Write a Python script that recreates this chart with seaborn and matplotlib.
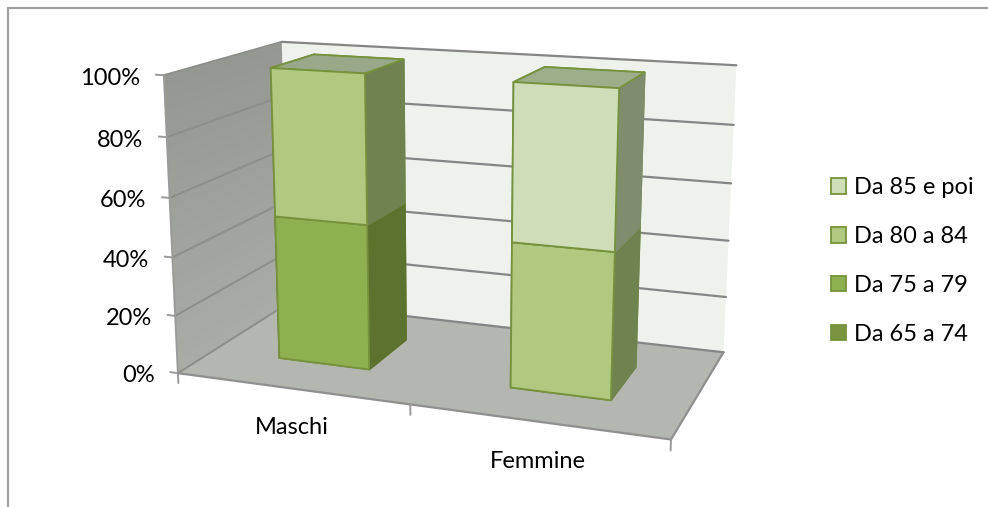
import numpy as np
import matplotlib
matplotlib.use('Agg')
import matplotlib.pyplot as plt
from matplotlib.lines import Line2D
from matplotlib.patches import Patch
from mpl_toolkits.mplot3d import proj3d
from mpl_toolkits.mplot3d.art3d import Poly3DCollection
import seaborn as sns

categories = ['Maschi', 'Femmine']
series_names = ['Da 65 a 74', 'Da 75 a 79', 'Da 80 a 84', 'Da 85 e poi']
da_65_74 = [0, 0]
da_75_79 = [50, 0]
da_80_84 = [50, 48.8]
da_85_poi = [0, 51.2]
pct_ticks = [0, 20, 40, 60, 80, 100]

# front, side, top colour of each series
front_colors = ['#7A9440', '#8FB050', '#B0C880', '#CFDDB8']
side_colors = ['#566828', '#5E7230', '#6F8250', '#7F8C6D']
top_colors = ['#78885A', '#84966A', '#98A888', '#9DAE8A']
edge_color = '#76923C'
grid_color = '#858585'

sns.set_theme(style='white')
plt.rcParams['font.family'] = ['Lato', 'DejaVu Sans']
plt.rcParams['text.color'] = 'black'

W, H = 988, 507
fig = plt.figure(figsize=(W / 100, H / 100), dpi=100)

# camera fitted against the corners of the walls and bars
side_px = 619.27
ax = fig.add_axes([138.01 / W, -30.86 / H, side_px / W, side_px / H], projection='3d', computed_zorder=False)
ax.set_axis_off()
ax.patch.set_alpha(0)
ax.view_init(elev=14.2876, azim=-69.8551)
ax.set_proj_type('persp', focal_length=0.4606)
ax.set_box_aspect((1.6665, 0.8357, 1.0))

x_max = len(categories)
z_max = pct_ticks[-1]

# walls and floor
wall_shades = sns.blend_palette(['#959791', '#A9ABA5'], 25)
z_edges = np.linspace(z_max, 0, 26)
for i, shade in enumerate(wall_shades):
    strip = [(0, 0, z_edges[i]), (0, 1, z_edges[i]), (0, 1, z_edges[i + 1]), (0, 0, z_edges[i + 1])]
    ax.add_collection3d(Poly3DCollection([strip], facecolors=shade, edgecolors=shade, linewidths=0.5, zorder=1))
back = [(0, 1, 0), (x_max, 1, 0), (x_max, 1, z_max), (0, 1, z_max)]
ax.add_collection3d(Poly3DCollection([back], facecolors='#EFF2EC', edgecolors='none', zorder=1))
floor = [(0, 0, 0), (x_max, 0, 0), (x_max, 1, 0), (0, 1, 0)]
ax.add_collection3d(Poly3DCollection([floor], facecolors='#B4B6B0', edgecolors='none', zorder=1))

# gridlines run along the left wall and then the back wall
for z in pct_ticks:
    ax.plot([0, 0], [0, 1], [z, z], color='#8C8E8A', lw=1.4, zorder=2)
    ax.plot([0, x_max], [1, 1], [z, z], color=grid_color, lw=1.6, zorder=2)
    ax.plot([-0.035, 0], [0, 0], [z, z], color='#9A9A9A', lw=1.4, zorder=2)
ax.plot([0, 0], [0, 0], [0, z_max], color='#9A9A9A', lw=1.4, zorder=2)
ax.plot([0, x_max], [0, 0], [0, 0], color='#8F8F8F', lw=1.6, zorder=2)
ax.plot([x_max, x_max], [0, 1], [0, 0], color='#8F8F8F', lw=1.6, zorder=2)
for x in range(x_max + 1):
    ax.plot([x, x], [0, 0], [-3.5, 0], color='#9A9A9A', lw=1.4, zorder=2)

# stacked bars
bar_w, bar_y, bar_d = 0.4015, 0.3025, 0.3942
positions = np.arange(x_max) + 0.5 - bar_w / 2
bottom = np.zeros(x_max)
all_series = [da_65_74, da_75_79, da_80_84, da_85_poi]
for k, values in enumerate(all_series):
    values = np.array(values, dtype=float)
    keep = values > 0
    if keep.any():
        n = int(keep.sum())
        faces = [top_colors[k], top_colors[k], front_colors[k], front_colors[k], side_colors[k], side_colors[k]]
        # side faces carry no visible outline in the original
        edges = [edge_color, edge_color, edge_color, edge_color, side_colors[k], side_colors[k]]
        ax.bar3d(positions[keep], np.full(n, bar_y), bottom[keep],
                 bar_w, bar_d, values[keep], color=faces * n, shade=False,
                 edgecolor=edges * n, linewidth=1.3, zorder=3 + k)
    bottom = bottom + values

ax.set_xlim(0, x_max, view_margin=0)
ax.set_ylim(0, 1, view_margin=0)
ax.set_zlim(0, z_max, view_margin=0)

# tick labels go on the figure, at the projected spot of each tick
M = ax.get_proj()
for z in pct_ticks:
    u, v, _ = proj3d.proj_transform(-0.105, 0, z, M)
    px, py = ax.transData.transform((u, v))
    fig.text(px / W, (py - 5) / H, f'{z}%', ha='right', va='center', fontsize=17)

# category labels sit lower than the floor edge, differently for each
fig.text(292 / W, 1 - 427 / H, categories[0], ha='center', va='center', fontsize=17)
fig.text(538 / W, 1 - 462 / H, categories[1], ha='center', va='center', fontsize=17)

handles = [Patch(facecolor=c, edgecolor=edge_color, linewidth=1.3) for c in front_colors[::-1]]
fig.legend(handles, series_names[::-1], loc='center left', bbox_to_anchor=(831 / W, 1 - 261 / H),
           frameon=False, fontsize=17, handlelength=0.64, handleheight=0.64,
           handletextpad=0.34, labelspacing=1.175, borderpad=0, borderaxespad=0)

# chart frame only shows on the top and left
fig.add_artist(Line2D([8 / W, 8 / W], [0, 1 - 8 / H], color='#A0A0A0', lw=1.6))
fig.add_artist(Line2D([8 / W, 1], [1 - 8 / H, 1 - 8 / H], color='#A0A0A0', lw=1.6))

fig.savefig('out.png', dpi=100)
